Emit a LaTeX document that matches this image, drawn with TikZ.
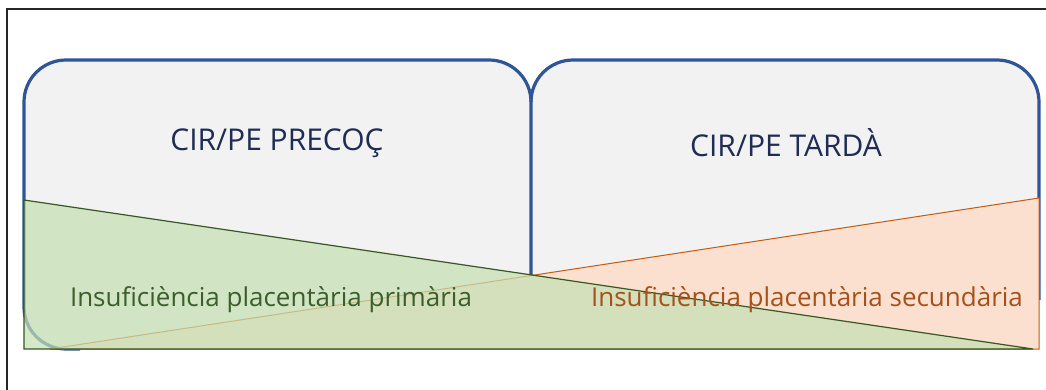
\documentclass[tikz,border=0pt]{standalone}
\usepackage{fontspec}
\setmainfont{Open Sans}
\definecolor{boxfill}{HTML}{F2F2F2}
\definecolor{boxline}{HTML}{2F5597}
\definecolor{titlecol}{HTML}{1F2D54}
\definecolor{greenfill}{HTML}{C5E0B4}
\definecolor{greenline}{HTML}{385723}
\definecolor{greentext}{HTML}{3B5E2B}
\definecolor{orangefill}{HTML}{FBE0CF}
\definecolor{orangeline}{HTML}{C55A11}
\definecolor{orangetext}{HTML}{A4511C}
\tikzset{
  boxedge/.style={draw=boxline, line width=3.2pt, line join=round},
  titletext/.style={text=titlecol, font=\fontsize{30}{36}\selectfont, inner sep=0pt},
  labeltext/.style={font=\fontsize{26}{31}\selectfont, inner sep=0pt},
}
\begin{document}
\begin{tikzpicture}[x=1pt, y=-1pt]
  \useasboundingbox (0,0) rectangle (1046,390);
  \fill[white] (0,0) rectangle (1046,390);
  % outer frame: only its top and left sides fall on the page
  \draw[line width=1.8pt, draw=black!85] (7,390) -- (7,9) -- (1046,9);
  % the two stage boxes: fills
  \fill[boxfill] (531,349) -- (66,349) .. controls (42.8,349) and (24,330.2) .. (24,307)
    -- (24,102) .. controls (24,78.8) and (42.8,60) .. (66,60)
    -- (489,60) .. controls (512.2,60) and (531,78.8) .. (531,102) -- cycle;
  \fill[boxfill] (531,349) -- (531,102) .. controls (531,78.8) and (549.8,60) .. (573,60)
    -- (997,60) .. controls (1020.2,60) and (1039,78.8) .. (1039,102) -- (1039,349) -- cycle;
  % the two stage boxes: outlines
  \draw[boxedge] (80,349) -- (66,349) .. controls (42.8,349) and (24,330.2) .. (24,307)
    -- (24,102) .. controls (24,78.8) and (42.8,60) .. (66,60)
    -- (489,60) .. controls (512.2,60) and (531,78.8) .. (531,102) -- (531,300);
  \draw[boxedge] (531,102) .. controls (531,78.8) and (549.8,60) .. (573,60)
    -- (997,60) .. controls (1020.2,60) and (1039,78.8) .. (1039,102) -- (1039,300);
  % rising wedge (secondary insufficiency)
  \filldraw[fill=orangefill, draw=orangeline, line width=1pt]
    (50,349) -- (1039,198) -- (1039,349) -- cycle;
  % falling wedge (primary insufficiency), drawn over it
  \fill[greenfill, fill opacity=0.72] (24,200) -- (24,349) -- (1033,349) -- cycle;
  \draw[greenline, line width=1.2pt] (24,200) -- (1033,349) -- (24,349) -- cycle;
  % texts
  \node[titletext] (precoc) at (277,143) {CIR/PE PRECOÇ};
  \node[titletext] (tarda) at (786,143) {CIR/PE TARDÀ};
  \node[labeltext, text=greentext] (primaria) at (271,300) {Insuficiència placentària primària};
  \node[labeltext, text=orangetext] (secundaria) at (807,300) {Insuficiència placentària secundària};
\end{tikzpicture}
\end{document}
